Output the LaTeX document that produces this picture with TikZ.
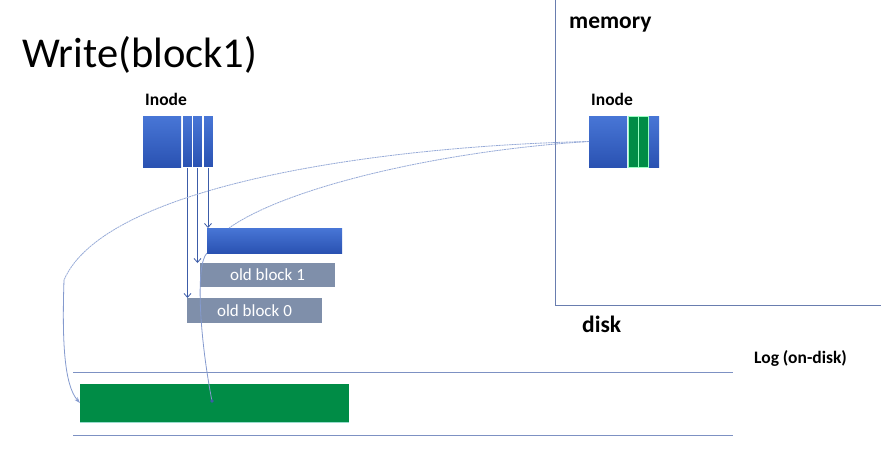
\documentclass[tikz,border=0pt]{standalone}
\usepackage{fontspec}
\setmainfont{Carlito}
\usetikzlibrary{arrows.meta}
\definecolor{blueT}{RGB}{72,118,214}
\definecolor{blueB}{RGB}{42,82,178}
\definecolor{oldgray}{RGB}{127,143,170}
\definecolor{logline}{RGB}{125,145,195}
\definecolor{ptr}{RGB}{60,92,168}
\definecolor{curvec}{RGB}{150,170,215}
\definecolor{greenblk}{RGB}{0,140,70}
\definecolor{divline}{RGB}{105,125,175}
\begin{document}
\begin{tikzpicture}[x=1pt,y=-1pt,
  box/.style={rectangle,inner sep=0pt,outer sep=0pt,anchor=north west},
  blueblk/.style={box,top color=blueT,bottom color=blueB},
  stripblk/.style={blueblk,draw=white,line width=0.8pt},
  greenstrip/.style={box,fill=greenblk,draw=green!60!cyan!40,line width=0.8pt},
  oldblk/.style={box,fill=oldgray,text=white,font=\fontsize{17}{20}\selectfont},
  lbl/.style={anchor=base west,inner sep=0pt,font=\bfseries\fontsize{17.5}{21}\selectfont},
  biglbl/.style={anchor=base west,inner sep=0pt,font=\bfseries\fontsize{23.5}{28}\selectfont},
  ptrarrow/.style={draw=ptr,line width=0.8pt,-{Straight Barb[length=4pt,width=7pt]}},
  softcurve/.style={draw=curvec,line width=0.8pt,dash pattern=on 2pt off 0.6pt},
  logln/.style={draw=logline,line width=0.8pt}
]
\useasboundingbox (0,0) rectangle (881,451);

% title
\node[anchor=base west,inner sep=0pt,font=\fontsize{42.5}{50}\selectfont] (title) at (22,67) {Write(block1)};

% memory / disk divider
\coordinate (divtop) at (555.5,0);
\coordinate (divcorner) at (555.5,305);
\coordinate (divend) at (881,305);
\draw[divline,line width=0.9pt] (divtop) -- (divcorner) -- (divend);
\node[biglbl] (memory) at (569,28) {memory};
\node[biglbl] (disk) at (582,332) {disk};

% left inode
\node[lbl] (inodeL) at (145,105) {Inode};
\node[blueblk,minimum width=38pt,minimum height=51pt] (iL0) at (143,116) {};
\node[stripblk,minimum width=10pt,minimum height=52pt] (iL1) at (182.5,115.5) {};
\node[stripblk,minimum width=10pt,minimum height=52pt] (iL2) at (192.5,115.5) {};
\node[stripblk,minimum width=10pt,minimum height=52pt] (iL3) at (203,115.5) {};

% right inode
\node[lbl] (inodeR) at (591,105) {Inode};
\node[blueblk,minimum width=38pt,minimum height=51pt] (iR0) at (589,116) {};
\node[greenstrip,minimum width=10pt,minimum height=51pt] (iR1) at (628,116) {};
\node[greenstrip,minimum width=10pt,minimum height=51pt] (iR2) at (638.5,116) {};
\node[blueblk,minimum width=10pt,minimum height=51pt] (iR3) at (649,116) {};

% data blocks
\node[blueblk,minimum width=135pt,minimum height=25pt] (newblk) at (207,228) {};
\node[oldblk,minimum width=135pt,minimum height=24pt] (old1) at (200,263) {old block 1};
\node[oldblk,minimum width=135pt,minimum height=25pt] (old0) at (187,298) {old block 0};

% log
\node[lbl] (logtxt) at (754,363) {Log (on-disk)};
\coordinate (logTL) at (73,372);
\coordinate (logTR) at (733,372);
\coordinate (logBL) at (73,435);
\coordinate (logBR) at (733,435);
\draw[logln] (logTL) -- (logTR);
\draw[logln] (logBL) -- (logBR);
\node[box,fill=greenblk,minimum width=269pt,minimum height=38pt] (greenlog) at (80,384) {};
\draw[cyan!50!green!40,line width=0.8pt] (greenlog.south west) -- (greenlog.south east);

% pointers from left inode
\draw[ptrarrow] (iL1.south) -- (iL1.south |- old0.north);
\draw[ptrarrow] (iL2.south) -- (iL2.south |- old1.north);
\draw[ptrarrow] (iL3.south) -- (iL3.south |- newblk.north);

% curves from right inode
\coordinate (cB) at (229,228);
\draw[softcurve] (iR0.west) .. controls (450,150) and (290,185) .. (cB);
\coordinate (cA) at (64,280);
\draw[softcurve] (iR0.west) .. controls (380,146) and (105,185) .. (cA);
\draw[draw=curvec!80!ptr,line width=0.8pt,-{Stealth[length=6pt,width=4pt]}] (cA) .. controls (62,340) and (64,385) .. (greenlog.west);

% new block to log
\coordinate (cC) at (212,401);
\draw[draw=curvec!80!ptr,line width=0.8pt] (newblk.south west) .. controls (195,265) and (200,340) .. (cC);
\fill[ptr] (cC) circle (1.8pt);
\end{tikzpicture}
\end{document}
